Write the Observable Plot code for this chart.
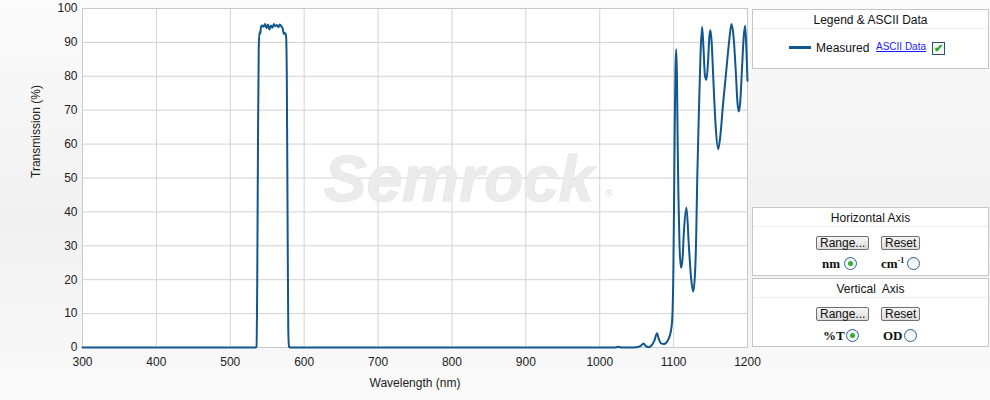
<!DOCTYPE html>
<html>
<head>
<meta charset="utf-8">
<script src="https://cdn.jsdelivr.net/npm/d3@7"></script>
<script src="https://cdn.jsdelivr.net/npm/@observablehq/plot@0.6"></script>
<style>
  html, body { margin: 0; padding: 0; }
  body { width: 990px; height: 400px; overflow: hidden; background: linear-gradient(to bottom, #fbfbfb, #f1f1f1 55%, #fafafa); font-family: "Liberation Sans", Arial, sans-serif; }
  #wrap { position: relative; width: 990px; height: 400px; }
  #chart { position: absolute; left: 0; top: 0; }
  .panel { position: absolute; left: 752px; width: 235px; background: #fff; border: 1px solid #c6c6c6; font-size: 12px; color: #111; }
  .ptitle { text-align: center; height: 18px; line-height: 20px; border-bottom: 1px solid #efefef; }
  .btn { position: absolute; height: 12px; line-height: 12px; padding: 0 3px; font-size: 12px; border: 1px solid #707070; border-radius: 2px; background: linear-gradient(#f6f6f6, #dcdcdc); color: #111; }
  .rl { position: absolute; font-family: "Liberation Serif", "Times New Roman", serif; font-weight: bold; font-size: 13px; color: #111; }
  .radio { position: absolute; width: 11px; height: 11px; border-radius: 50%; border: 1px solid #2f5f8a; background: linear-gradient(#e8eef4, #fff); }
  .radio.on::after { content: ""; position: absolute; left: 3px; top: 3px; width: 5px; height: 5px; border-radius: 50%; background: #2fb12f; }
</style>
</head>
<body>
<div id="wrap">
  <div id="chart"></div>
  <div class="panel" style="top:9px; height:58px;">
    <div class="ptitle">Legend &amp; ASCII Data</div>
    <div style="position:absolute; left:36px; top:36px; width:22px; height:3px; background:#11568c;"></div>
    <div style="position:absolute; left:63px; top:31px; font-size:12px;">Measured</div>
    <div style="position:absolute; left:123px; top:31px; font-size:10px; color:#1a1aff; text-decoration:underline;">ASCII Data</div>
    <div style="position:absolute; left:179px; top:32px; width:11px; height:11px; border:1px solid #2f4f6f; background:#f4f8f4; color:#2aa52a; font-size:11px; line-height:11px; text-align:center; font-weight:bold;">✔</div>
  </div>
  <div class="panel" style="top:207px; height:67px;">
    <div class="ptitle">Horizontal Axis</div>
    <div class="btn" style="left:63px; top:28px;">Range...</div>
    <div class="btn" style="left:128px; top:28px;">Reset</div>
    <div class="rl" style="left:69px; top:48px;">nm</div>
    <div class="radio on" style="left:91px; top:49px;"></div>
    <div class="rl" style="left:128px; top:48px;">cm<sup style="font-size:8px; vertical-align:5px;">-1</sup></div>
    <div class="radio" style="left:154px; top:49px;"></div>
  </div>
  <div class="panel" style="top:278px; height:67px;">
    <div class="ptitle">Vertical&nbsp; Axis</div>
    <div class="btn" style="left:63px; top:28px;">Range...</div>
    <div class="btn" style="left:128px; top:28px;">Reset</div>
    <div class="rl" style="left:70px; top:49px;">%T</div>
    <div class="radio on" style="left:93px; top:50px;"></div>
    <div class="rl" style="left:130px; top:49px;">OD</div>
    <div class="radio" style="left:151px; top:50px;"></div>
  </div>
</div>
<script>
const wavelength = [
  300, 400, 500, 530, 534, 535.5, 536.5, 537.5, 538.5, 539.5, 540.5, 541.5, 543, 545, 547, 549, 551, 553, 555, 557, 559, 561, 563, 565, 567, 569, 571, 572.5, 574, 575.5, 576.5, 577.5, 578.5, 579.5, 581,
  700, 900, 1020, 1025, 1030, 1040, 1050, 1055, 1059.5, 1062, 1066, 1070, 1074, 1077.5, 1080, 1083, 1087, 1090, 1093, 1096, 1098, 1099.5, 1100.5, 1101.5, 1102.5, 1103.5, 1104.5, 1105.5, 1106.5, 1108, 1110, 1112, 1114, 1117.4, 1120.5, 1123.6, 1126.5, 1129, 1130.5, 1132, 1134.3, 1136.5, 1138.6, 1140.5, 1142.5, 1144.5, 1146.5, 1148.5, 1149.9, 1151.5, 1154, 1157, 1160.3, 1163, 1167, 1171, 1175, 1178.3, 1181, 1184, 1186.5, 1188.2, 1190, 1192.5, 1195, 1196.8, 1198.5, 1200
];
const transmission = [
  0, 0, 0, 0, 0, 0.3, 20, 60, 88, 93, 92.5, 94.5, 95, 94.6, 95.4, 94.2, 95.3, 93.8, 95, 94.3, 95.4, 94.8, 95.1, 94.5, 95.3, 94.8, 94.0, 92.5, 92.8, 92.0, 80, 40, 5, 0.3, 0,
  0, 0, 0, 0.2, 0, 0, 0.1, 0.4, 1.2, 0.5, 0.1, 0.6, 2.0, 4.2, 2.5, 1.2, 1.0, 1.4, 2.5, 4.5, 8, 20, 40, 65, 82, 88, 80, 60, 45, 30, 23.5, 26, 34.4, 41.3, 30.5, 20.6, 16.5, 22, 32, 50, 70, 87, 94.6, 88, 80, 79, 84, 92, 93.6, 90, 78, 65, 58.5, 62, 72, 81, 90, 95.4, 92, 82, 72, 69.6, 72, 82, 92, 94.9, 88, 78.7
];
const xTicks = [300, 400, 500, 600, 700, 800, 900, 1000, 1100, 1200];
const yTicks = [0, 10, 20, 30, 40, 50, 60, 70, 80, 90, 100];

const data = wavelength.map((w, i) => ({w, t: transmission[i]}));

const chart = Plot.plot({
  width: 990,
  height: 400,
  marginLeft: 82,
  marginRight: 243,
  marginTop: 8,
  marginBottom: 53,
  style: {background: "transparent", fontFamily: "'Liberation Sans', Arial, sans-serif", fontSize: "12px", color: "#222", overflow: "visible"},
  x: {domain: [300, 1200], ticks: xTicks, label: null},
  y: {domain: [0, 100], ticks: yTicks, label: null},
  marks: [
    Plot.frame({fill: "white", stroke: null}),
    Plot.gridX(xTicks, {stroke: "#d2d2d2", strokeOpacity: 1}),
    Plot.gridY(yTicks, {stroke: "#d2d2d2", strokeOpacity: 1}),
    Plot.text(["Semrock"], {frameAnchor: "middle", dx: 44, dy: 3, fontSize: 64, fontStyle: "italic", fontWeight: "bold", fill: "#ebebeb", stroke: "#e2e2e2", strokeWidth: 1, fontFamily: "'Liberation Sans', Arial, sans-serif"}),
    Plot.text(["®"], {frameAnchor: "middle", dx: 194, dy: 16, fontSize: 10, fill: "#e0e0e0"}),
    Plot.frame({stroke: "#c8c8c8"}),
    Plot.axisX({ticks: xTicks, tickSize: 0, tickPadding: 10, tickFormat: d => String(d), label: null, fill: "#222"}),
    Plot.axisY({ticks: yTicks, tickSize: 0, tickPadding: 5, tickFormat: d => String(d), label: null, fill: "#222"}),
    Plot.text(["Wavelength (nm)"], {frameAnchor: "bottom", dy: 39, fontSize: 12, fill: "#222"}),
    Plot.text(["Transmission (%)"], {frameAnchor: "left", dx: -46, rotate: -90, fontSize: 12, fill: "#222"}),
    Plot.line(data, {x: "w", y: "t", stroke: "#11568c", strokeWidth: 2, curve: "monotone-x"})
  ]
});
document.getElementById("chart").appendChild(chart);
</script>
</body>
</html>
